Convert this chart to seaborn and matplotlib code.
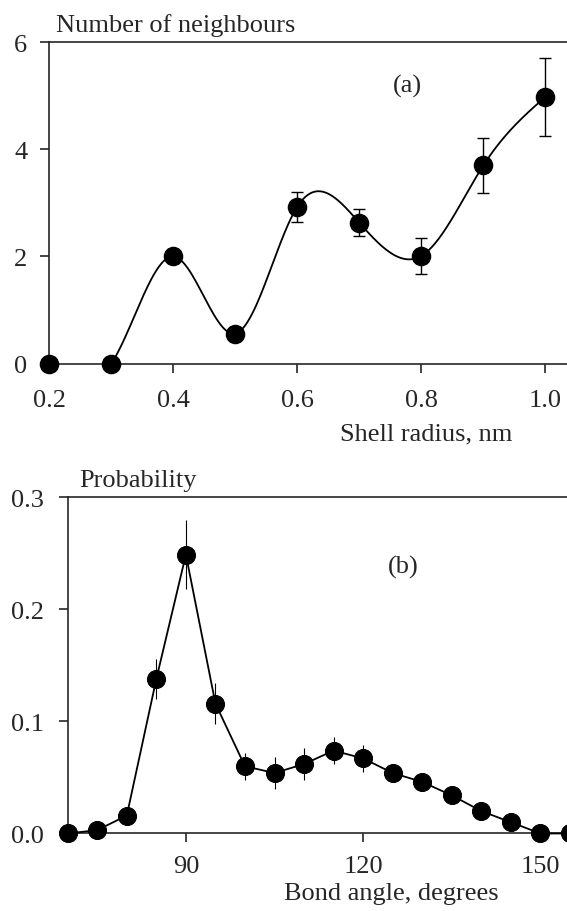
import numpy as np
import pandas as pd
import matplotlib
matplotlib.use('Agg')
import matplotlib.pyplot as plt
import seaborn as sns

# ---- data ----
# (a) number of neighbours vs shell radius
radius = [0.2, 0.3, 0.4, 0.5, 0.6, 0.7, 0.8, 0.9, 1.0]
neighbours = [0.0, 0.0, 2.0, 0.56, 2.93, 2.63, 2.01, 3.70, 4.98]
neighbours_err = [0.0, 0.0, 0.0, 0.0, 0.28, 0.25, 0.33, 0.52, 0.73]

# (b) bond angle distribution
angle = [70, 75, 80, 85, 90, 95, 100, 105, 110, 115, 120, 125, 130, 135, 140, 145, 150, 155]
prob = [0.0, 0.003, 0.016, 0.138, 0.249, 0.116, 0.060, 0.054, 0.062, 0.074,
        0.067, 0.054, 0.046, 0.034, 0.020, 0.010, 0.0, 0.0]
prob_err = [0.0, 0.0, 0.0, 0.018, 0.031, 0.018, 0.012, 0.014, 0.014, 0.012,
            0.012, 0.007, 0.006, 0.005, 0.004, 0.003, 0.0, 0.0]


def natural_spline(x, y, xs):
    # smooth curve through the points, like the original drawing
    x = np.asarray(x, float)
    y = np.asarray(y, float)
    n = len(x)
    h = np.diff(x)
    A = np.zeros((n, n))
    r = np.zeros(n)
    A[0, 0] = A[-1, -1] = 1
    for i in range(1, n - 1):
        A[i, i - 1] = h[i - 1]
        A[i, i] = 2 * (h[i - 1] + h[i])
        A[i, i + 1] = h[i]
        r[i] = 6 * ((y[i + 1] - y[i]) / h[i] - (y[i] - y[i - 1]) / h[i - 1])
    M = np.linalg.solve(A, r)
    idx = np.clip(np.searchsorted(x, xs) - 1, 0, n - 2)
    hi = h[idx]
    a = x[idx + 1] - xs
    b = xs - x[idx]
    return (M[idx] * a ** 3 / (6 * hi) + M[idx + 1] * b ** 3 / (6 * hi)
            + (y[idx] / hi - M[idx] * hi / 6) * a
            + (y[idx + 1] / hi - M[idx + 1] * hi / 6) * b)


sns.set_style('ticks')
plt.rcParams['font.family'] = ['Liberation Serif', 'DejaVu Serif']
plt.rcParams['axes.linewidth'] = 1.2

TICK_FS = 19
LABEL_FS = 19

fig = plt.figure(figsize=(5.67, 9.12), dpi=100)

# ================== (a) ==================
ax1 = fig.add_axes([0.087, 0.6003, 0.9841, 0.3522])
xs = np.linspace(radius[0], radius[-1], 400)
curve = pd.DataFrame({'r': xs, 'n': natural_spline(radius, neighbours, xs)})
sns.lineplot(data=curve, x='r', y='n', ax=ax1, color='black', linewidth=1.3)

err_df = pd.DataFrame({'r': radius, 'n': neighbours, 'e': neighbours_err})
err_df = err_df[err_df['e'] > 0]
ax1.errorbar(err_df['r'], err_df['n'], yerr=err_df['e'], fmt='none',
             ecolor='black', elinewidth=1.0, capsize=4.5, capthick=1.0, zorder=2)
sns.scatterplot(x=radius, y=neighbours, ax=ax1, color='black', s=170,
                edgecolor='black', zorder=3, clip_on=False)

ax1.set_xlim(0.2, 1.1)
ax1.set_ylim(0, 6)
ax1.set_xticks([0.2, 0.4, 0.6, 0.8, 1.0])
ax1.set_yticks([0, 2, 4, 6])
ax1.set_xlabel('')
ax1.set_ylabel('')
ax1.spines['right'].set_visible(False)
ax1.tick_params(axis='both', labelsize=TICK_FS, length=6.8, width=1.2, direction='out')
ax1.tick_params(axis='x', pad=11.5)
ax1.tick_params(axis='y', pad=9)
ax1.text(0.777, 5.19, '(a)', fontsize=TICK_FS, ha='center', va='center')

fig.text(56 / 567, 1 - 31.7 / 912, 'Number of neighbours', fontsize=LABEL_FS,
         ha='left', va='baseline')
fig.text(512 / 567, 1 - 440 / 912, 'Shell radius, nm', fontsize=LABEL_FS,
         ha='right', va='baseline')

# ================== (b) ==================
ax2 = fig.add_axes([0.1194, 0.0850, 0.938, 0.3684])
ax2.errorbar(angle, prob, yerr=prob_err, fmt='none', ecolor='black',
             elinewidth=0.8, capsize=0, zorder=2)
sns.lineplot(x=angle, y=prob, ax=ax2, color='black', linewidth=1.3, marker='o',
             markersize=13, markeredgecolor='black', zorder=3, clip_on=False)

ax2.set_xlim(70, 160)
ax2.set_ylim(0, 0.3)
ax2.set_xticks([90, 120, 150])
ax2.set_yticks([0.0, 0.1, 0.2, 0.3])
ax2.spines['right'].set_visible(False)
ax2.tick_params(axis='both', labelsize=TICK_FS, length=6.8, width=1.2, direction='out')
ax2.tick_params(axis='x', pad=9)
ax2.tick_params(axis='y', pad=10.5)
ax2.text(126.7, 0.238, '(b)', fontsize=TICK_FS, ha='center', va='center')

fig.text(79 / 567, 1 - 486.7 / 912, 'Probability', fontsize=LABEL_FS,
         ha='left', va='baseline')
fig.text(499 / 567, 1 - 900 / 912, 'Bond angle, degrees', fontsize=LABEL_FS,
         ha='right', va='baseline')

fig.savefig('out.png', dpi=100)
